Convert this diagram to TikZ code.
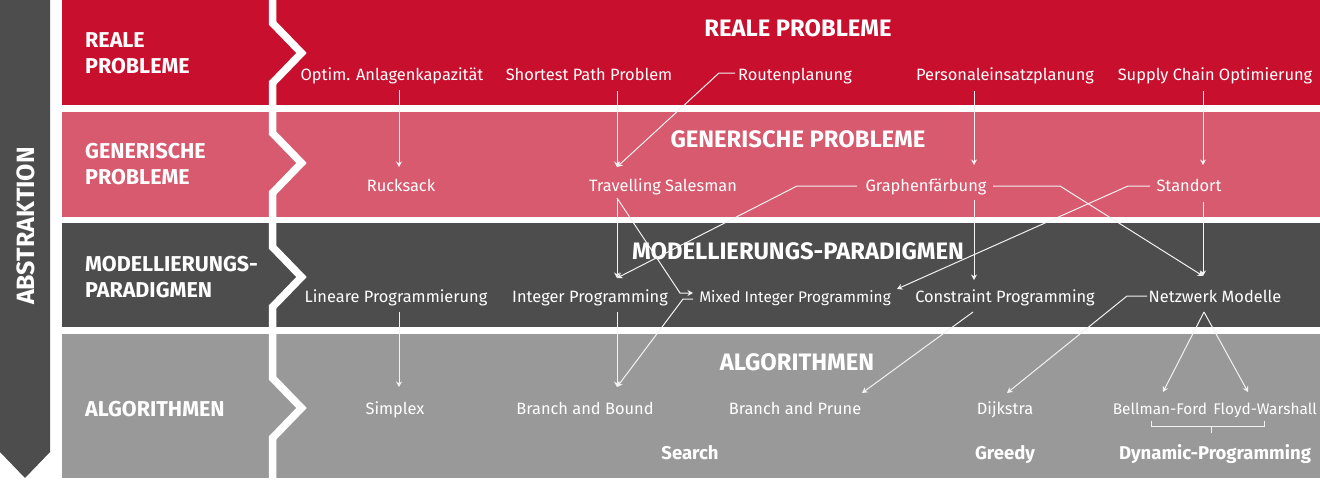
\documentclass[tikz,border=0pt]{standalone}
\usepackage{fontspec}
\setmainfont{Fira Sans}
\usetikzlibrary{arrows.meta}
\definecolor{rRed}{RGB}{200,16,46}
\definecolor{rPink}{RGB}{215,90,110}
\definecolor{rDark}{RGB}{77,77,77}
\definecolor{rGray}{RGB}{153,153,153}
\definecolor{rLine}{RGB}{242,242,242}
\begin{document}
\begin{tikzpicture}[x=1pt,y=-1pt,
  lbl/.style={text=white,font=\fontsize{16.4}{19}\selectfont,inner sep=0pt,anchor=base},
  lbls/.style={lbl,font=\fontsize{15.4}{19}\selectfont},
  ttl/.style={text=white,font=\fontsize{23.8}{28}\selectfont\bfseries,inner sep=0pt,anchor=base},
  side/.style={text=white,font=\fontsize{21.5}{26}\selectfont\bfseries,inner sep=0pt,anchor=north west,align=left},
  grp/.style={text=white,font=\fontsize{18.5}{22}\selectfont\bfseries,inner sep=0pt,anchor=base},
  conn/.style={draw=rLine,line width=1pt,-{Stealth[length=5.5pt,width=6pt]}},
  brk/.style={draw=rLine,line width=1pt}]
\useasboundingbox (0,0) rectangle (1320,480);
\fill[white] (0,0) rectangle (1320,480);
% abstraction arrow
\fill[rDark] (0,0) -- (50,0) -- (50,452) -- (25,478) -- (0,452) -- cycle;
\node[rotate=90,text=white,font=\fontsize{25}{29}\selectfont\bfseries,inner sep=0pt] (abs) at (26,226) {ABSTRAKTION};
% rows
\fill[rRed] (62,0) rectangle (1320,105);
\fill[rPink] (62,112) rectangle (1320,216.5);
\fill[rDark] (62,223) rectangle (1320,327);
\fill[rGray] (62,334) rectangle (1320,478);
% zigzag separator
\draw[white,line width=7.5pt,line join=miter]
  (272.5,-5) -- (272.5,23) -- (301.5,53) -- (272.5,83) -- (272.5,133) -- (301.5,163) -- (272.5,193)
  -- (272.5,247) -- (301.5,277) -- (272.5,307) -- (272.5,378) -- (301.5,408) -- (272.5,438) -- (272.5,490);
% side labels
\node[side] (s1) at (85,32.8) {REALE\\PROBLEME};
\node[side] (s2) at (85,143.3) {GENERISCHE\\PROBLEME};
\node[side] (s3) at (85,255.8) {MODELLIERUNGS-\\PARADIGMEN};
\node[side] (s4) at (85,400.8) {ALGORITHMEN};
% titles
\node[ttl] (t1) at (798,36) {REALE PROBLEME};
\node[ttl] (t2) at (798,147.7) {GENERISCHE PROBLEME};
\node[ttl] (t3) at (798,259) {MODELLIERUNGS-PARADIGMEN};
\node[ttl] (t4) at (797,370) {ALGORITHMEN};
% row 1
\node[lbl] (opt) at (392,80) {Optim. Anlagenkapazität};
\node[lbl] (spp) at (589,80) {Shortest Path Problem};
\node[lbl] (rout) at (795,80) {Routenplanung};
\node[lbl] (pers) at (1005,80) {Personaleinsatzplanung};
\node[lbl] (supp) at (1215,80) {Supply Chain Optimierung};
% row 2
\node[lbl] (ruck) at (401,191.5) {Rucksack};
\node[lbl] (tsp) at (663,191.5) {Travelling Salesman};
\node[lbl] (graph) at (926,191.5) {Graphenfärbung};
\node[lbl] (stand) at (1189,191.5) {Standort};
% row 3
\node[lbl] (lp) at (396,302) {Lineare Programmierung};
\node[lbl] (ip) at (590,302) {Integer Programming};
\node[lbls] (mip) at (795,302) {Mixed Integer Programming};
\node[lbl] (cp) at (1005,302) {Constraint Programming};
\node[lbl] (net) at (1215,302) {Netzwerk Modelle};
% row 4
\node[lbl] (simp) at (395,414) {Simplex};
\node[lbl] (bnb) at (585,414) {Branch and Bound};
\node[lbl] (bnp) at (795,414) {Branch and Prune};
\node[lbl] (dijk) at (1005,414) {Dijkstra};
\node[lbls] (bf) at (1160,414) {Bellman-Ford};
\node[lbls] (fw) at (1265,414) {Floyd-Warshall};
\node[grp] (search) at (690,459) {Search};
\node[grp] (greedy) at (1005,459) {Greedy};
\node[grp] (dp) at (1215,459) {Dynamic-Programming};
% connectors
\draw[conn] ([shift={(7,10)}]opt.base) -- ([shift={(-2,-24.5)}]ruck.base);
\draw[conn] ([shift={(28,11)}]spp.base) -- ([shift={(-46,-24.5)}]tsp.base);
\draw[conn] ([shift={(-60,-7)}]rout.base) -- ++(-16,0) -- ([shift={(-46,-24.5)}]tsp.base);
\draw[conn] ([shift={(-31,11)}]pers.base) -- ([shift={(48,-26.5)}]graph.base);
\draw[conn] ([shift={(-12,11)}]supp.base) -- ([shift={(14,-26.5)}]stand.base);
\draw[conn] ([shift={(-46,6.5)}]tsp.base) -- ([shift={(27,-24)}]ip.base);
\draw[conn] ([shift={(-46,6.5)}]tsp.base) -- ([shift={(-115,-9)}]mip.base) -- ([shift={(-102,-9)}]mip.base);
\draw[conn] ([shift={(-69,-5.5)}]graph.base) -- ++(-60,0) -- ([shift={(27,-24)}]ip.base);
\draw[conn] ([shift={(67,-5.5)}]graph.base) -- ++(67,0) -- ([shift={(-12,-26)}]net.base);
\draw[conn] ([shift={(48,8.5)}]graph.base) -- ([shift={(-31,-22)}]cp.base);
\draw[conn] ([shift={(-39,-5.5)}]stand.base) -- ++(-22,0) -- ([shift={(102,-13)}]mip.base);
\draw[conn] ([shift={(14,10.5)}]stand.base) -- ([shift={(-12,-26)}]net.base);
\draw[conn] ([shift={(27,10)}]ip.base) -- ([shift={(32,-27)}]bnb.base);
\draw[conn] ([shift={(-102,-3)}]mip.base) -- ++(-10,0) -- ([shift={(32,-27)}]bnb.base);
\draw[conn] ([shift={(-32,10)}]cp.base) -- ([shift={(67,-21)}]bnp.base);
\draw[conn] ([shift={(-68,-6)}]net.base) -- ++(-20,0) -- ([shift={(2,-21)}]dijk.base);
\draw[conn] ([shift={(-11,10)}]net.base) -- ([shift={(3,-22)}]bf.base);
\draw[conn] ([shift={(-11,10)}]net.base) -- ([shift={(-17,-22)}]fw.base);
\draw[conn] ([shift={(3,10)}]lp.base) -- ([shift={(4,-27)}]simp.base);
% bracket
\draw[brk] ([shift={(-9,7)}]bf.base) -- ++(0,5) -| ([shift={(-1,7)}]fw.base);
\draw[brk] ([shift={(-4,-26)}]dp.base) -- ++(0,-7);
\end{tikzpicture}
\end{document}
